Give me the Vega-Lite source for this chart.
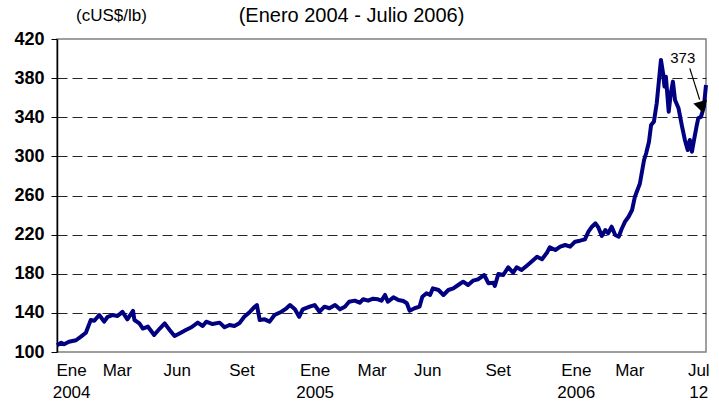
{
  "$schema": "https://vega.github.io/schema/vega-lite/v6.json",
  "width": 649,
  "height": 313,
  "autosize": "none",
  "padding": {"left": 57, "top": 39, "right": 13, "bottom": 55},
  "background": "white",
  "config": {
    "font": "Liberation Sans",
    "view": {"stroke": "#808080", "strokeWidth": 1.5}
  },
  "title": {
    "text": "(Enero 2004 - Julio 2006)",
    "fontSize": 20,
    "fontWeight": "normal",
    "font": "Liberation Sans",
    "color": "black",
    "anchor": "middle",
    "dx": -30,
    "dy": 34,
    "offset": 14
  },
  "datasets": {
    "prices": [
      {"d": "2004-01-02", "v": 107},
      {"d": "2004-01-08", "v": 109.5},
      {"d": "2004-01-12", "v": 108},
      {"d": "2004-01-19", "v": 110.5},
      {"d": "2004-01-29", "v": 112},
      {"d": "2004-02-05", "v": 115.7},
      {"d": "2004-02-12", "v": 119.7},
      {"d": "2004-02-17", "v": 129},
      {"d": "2004-02-19", "v": 132.7},
      {"d": "2004-02-24", "v": 132},
      {"d": "2004-03-02", "v": 137.8},
      {"d": "2004-03-09", "v": 131},
      {"d": "2004-03-14", "v": 136},
      {"d": "2004-03-21", "v": 137.8},
      {"d": "2004-03-28", "v": 136.8},
      {"d": "2004-04-04", "v": 141},
      {"d": "2004-04-11", "v": 133.4},
      {"d": "2004-04-19", "v": 142},
      {"d": "2004-04-21", "v": 132.7},
      {"d": "2004-04-28", "v": 129.3},
      {"d": "2004-05-03", "v": 124},
      {"d": "2004-05-10", "v": 126},
      {"d": "2004-05-19", "v": 117.4},
      {"d": "2004-05-27", "v": 124},
      {"d": "2004-06-03", "v": 129.3},
      {"d": "2004-06-10", "v": 122.5},
      {"d": "2004-06-17", "v": 116.4},
      {"d": "2004-06-24", "v": 119},
      {"d": "2004-07-03", "v": 122.5},
      {"d": "2004-07-11", "v": 125.3},
      {"d": "2004-07-20", "v": 130},
      {"d": "2004-07-27", "v": 126.6},
      {"d": "2004-08-01", "v": 131},
      {"d": "2004-08-10", "v": 128.6},
      {"d": "2004-08-20", "v": 130},
      {"d": "2004-08-27", "v": 125.3},
      {"d": "2004-09-03", "v": 127.6},
      {"d": "2004-09-10", "v": 126.6},
      {"d": "2004-09-17", "v": 129.3},
      {"d": "2004-09-24", "v": 136},
      {"d": "2004-10-02", "v": 141},
      {"d": "2004-10-09", "v": 146.3},
      {"d": "2004-10-12", "v": 148},
      {"d": "2004-10-16", "v": 132.7},
      {"d": "2004-10-23", "v": 133.4},
      {"d": "2004-10-30", "v": 131},
      {"d": "2004-11-06", "v": 137.8},
      {"d": "2004-11-16", "v": 141.2},
      {"d": "2004-11-23", "v": 144.7},
      {"d": "2004-11-28", "v": 148},
      {"d": "2004-12-05", "v": 143.6},
      {"d": "2004-12-11", "v": 136},
      {"d": "2004-12-16", "v": 143.6},
      {"d": "2004-12-26", "v": 146.3},
      {"d": "2005-01-02", "v": 148},
      {"d": "2005-01-09", "v": 141.2},
      {"d": "2005-01-16", "v": 146.3},
      {"d": "2005-01-23", "v": 144.7},
      {"d": "2005-01-31", "v": 148},
      {"d": "2005-02-07", "v": 143.6},
      {"d": "2005-02-14", "v": 146.3},
      {"d": "2005-02-20", "v": 151.4},
      {"d": "2005-02-28", "v": 152.5},
      {"d": "2005-03-07", "v": 150.4},
      {"d": "2005-03-12", "v": 153.9},
      {"d": "2005-03-19", "v": 152.5},
      {"d": "2005-03-26", "v": 154.5},
      {"d": "2005-04-02", "v": 153.9},
      {"d": "2005-04-07", "v": 152.5},
      {"d": "2005-04-12", "v": 158.3},
      {"d": "2005-04-16", "v": 151.4},
      {"d": "2005-04-24", "v": 155.9},
      {"d": "2005-05-01", "v": 153.2},
      {"d": "2005-05-08", "v": 152.1},
      {"d": "2005-05-13", "v": 149.8},
      {"d": "2005-05-17", "v": 142.2},
      {"d": "2005-05-24", "v": 144.7},
      {"d": "2005-05-31", "v": 146.3},
      {"d": "2005-06-04", "v": 156.5},
      {"d": "2005-06-10", "v": 160},
      {"d": "2005-06-15", "v": 158.3},
      {"d": "2005-06-19", "v": 165.1},
      {"d": "2005-06-27", "v": 163.4},
      {"d": "2005-07-04", "v": 158.3},
      {"d": "2005-07-11", "v": 163.4},
      {"d": "2005-07-18", "v": 165.1},
      {"d": "2005-07-25", "v": 168.5},
      {"d": "2005-08-01", "v": 171.9},
      {"d": "2005-08-08", "v": 168.5},
      {"d": "2005-08-15", "v": 172.9},
      {"d": "2005-08-22", "v": 174.3},
      {"d": "2005-08-31", "v": 178.7},
      {"d": "2005-09-06", "v": 170.2},
      {"d": "2005-09-13", "v": 170.9},
      {"d": "2005-09-15", "v": 167.5},
      {"d": "2005-09-20", "v": 179.8},
      {"d": "2005-09-27", "v": 178.7},
      {"d": "2005-10-04", "v": 186.6},
      {"d": "2005-10-11", "v": 181.1},
      {"d": "2005-10-16", "v": 186.6},
      {"d": "2005-10-23", "v": 183.8},
      {"d": "2005-10-30", "v": 188},
      {"d": "2005-11-06", "v": 192.3},
      {"d": "2005-11-14", "v": 197.4},
      {"d": "2005-11-21", "v": 194.8},
      {"d": "2005-11-28", "v": 201.5},
      {"d": "2005-12-02", "v": 207},
      {"d": "2005-12-10", "v": 204.3},
      {"d": "2005-12-17", "v": 207.7},
      {"d": "2005-12-24", "v": 209.4},
      {"d": "2005-12-31", "v": 207.7},
      {"d": "2006-01-07", "v": 212.8},
      {"d": "2006-01-14", "v": 213.8},
      {"d": "2006-01-21", "v": 215.2},
      {"d": "2006-01-26", "v": 223},
      {"d": "2006-01-31", "v": 228.1},
      {"d": "2006-02-05", "v": 231.6},
      {"d": "2006-02-09", "v": 227.5},
      {"d": "2006-02-14", "v": 218.6},
      {"d": "2006-02-19", "v": 224.7},
      {"d": "2006-02-23", "v": 221.4},
      {"d": "2006-02-28", "v": 228.1},
      {"d": "2006-03-05", "v": 219.6},
      {"d": "2006-03-10", "v": 217.9},
      {"d": "2006-03-14", "v": 225.5},
      {"d": "2006-03-19", "v": 233.2},
      {"d": "2006-03-24", "v": 238.3},
      {"d": "2006-03-29", "v": 245.2},
      {"d": "2006-04-02", "v": 258.8},
      {"d": "2006-04-09", "v": 272},
      {"d": "2006-04-15", "v": 296.3},
      {"d": "2006-04-18", "v": 303.2},
      {"d": "2006-04-22", "v": 315},
      {"d": "2006-04-25", "v": 332.1},
      {"d": "2006-04-29", "v": 335.5},
      {"d": "2006-05-03", "v": 354.3},
      {"d": "2006-05-06", "v": 376.4},
      {"d": "2006-05-09", "v": 398.6},
      {"d": "2006-05-12", "v": 385},
      {"d": "2006-05-14", "v": 371.3},
      {"d": "2006-05-16", "v": 381.5},
      {"d": "2006-05-20", "v": 345.7},
      {"d": "2006-05-23", "v": 364.5},
      {"d": "2006-05-26", "v": 376.4},
      {"d": "2006-05-29", "v": 357.7},
      {"d": "2006-06-03", "v": 349.2},
      {"d": "2006-06-08", "v": 330.4},
      {"d": "2006-06-12", "v": 316.8},
      {"d": "2006-06-16", "v": 306.5},
      {"d": "2006-06-19", "v": 316.8},
      {"d": "2006-06-22", "v": 304.8},
      {"d": "2006-06-25", "v": 316.8},
      {"d": "2006-06-29", "v": 332.1},
      {"d": "2006-07-01", "v": 338.9},
      {"d": "2006-07-05", "v": 340.6},
      {"d": "2006-07-09", "v": 350.8},
      {"d": "2006-07-12", "v": 373}
    ],
    "arrow": [{"d": "2006-06-19", "v": 390, "d2": "2006-07-03", "v2": 358}],
    "head": [{"d": "2006-07-06", "v": 350}],
    "label": [{"d": "2006-06-09", "v": 401, "t": "373"}]
  },
  "layer": [
    {
      "data": {"name": "prices"},
      "mark": {"type": "line", "color": "#000080", "strokeWidth": 4, "strokeJoin": "round"},
      "encoding": {
        "x": {
          "field": "d", "type": "temporal",
          "scale": {"type": "utc", "nice": false,
            "domain": [{"year": 2004, "month": 1, "date": 2, "utc": true}, {"year": 2006, "month": 7, "date": 12, "utc": true}]},
          "axis": {
            "title": null,
            "grid": false,
            "domain": false,
            "ticks": false,
            "labelFont": "Liberation Sans",
            "labelFontSize": 17,
            "labelColor": "black",
            "labelPadding": 10,
            "labelLineHeight": 22,
            "labelOverlap": false,
            "labelFlush": false,
            "values": [
              {"year": 2004, "month": 1, "date": 22, "utc": true},
              {"year": 2004, "month": 3, "date": 27, "utc": true},
              {"year": 2004, "month": 6, "date": 20, "utc": true},
              {"year": 2004, "month": 9, "date": 20, "utc": true},
              {"year": 2005, "month": 1, "date": 2, "utc": true},
              {"year": 2005, "month": 3, "date": 24, "utc": true},
              {"year": 2005, "month": 6, "date": 11, "utc": true},
              {"year": 2005, "month": 9, "date": 19, "utc": true},
              {"year": 2006, "month": 1, "date": 8, "utc": true},
              {"year": 2006, "month": 3, "date": 25, "utc": true},
              {"year": 2006, "month": 7, "date": 1, "utc": true}
            ],
            "labelExpr": "utcmonth(datum.value) == 0 ? ['Ene', utcFormat(datum.value, '%Y')] : utcmonth(datum.value) == 6 ? ['Jul', '12'] : utcmonth(datum.value) == 2 ? 'Mar' : utcmonth(datum.value) == 5 ? 'Jun' : 'Set'"
          }
        },
        "y": {
          "field": "v", "type": "quantitative",
          "scale": {"domain": [100, 420], "nice": false, "zero": false},
          "axis": {
            "title": "(cUS$/lb)",
            "titleAngle": 0,
            "titleX": 54,
            "titleY": -24,
            "titleAlign": "center",
            "titleBaseline": "middle",
            "titleFont": "Liberation Sans",
            "titleFontSize": 17,
            "titleFontWeight": "normal",
            "titleColor": "black",
            "values": [100, 140, 180, 220, 260, 300, 340, 380, 420],
            "tickCount": 9,
            "labelOverlap": false,
            "labelFont": "Liberation Sans",
            "labelFontSize": 18,
            "labelFontWeight": "bold",
            "labelColor": "black",
            "labelPadding": 7,
            "tickSize": 6,
            "tickColor": "black",
            "domainColor": "black",
            "domainWidth": 1.5,
            "grid": true,
            "gridColor": "black",
            "gridDash": [10, 5],
            "gridWidth": 1,
            "gridOpacity": {"condition": {"test": "datum.value == 100 || datum.value == 420", "value": 0}, "value": 0.85}
          }
        }
      }
    },
    {
      "data": {"name": "arrow"},
      "mark": {"type": "rule", "color": "black", "strokeWidth": 1.2},
      "encoding": {
        "x": {"field": "d", "type": "temporal"},
        "y": {"field": "v", "type": "quantitative"},
        "x2": {"field": "d2"},
        "y2": {"field": "v2"}
      }
    },
    {
      "data": {"name": "head"},
      "mark": {"type": "point", "shape": "triangle-up", "filled": true, "color": "black", "opacity": 1, "size": 200, "angle": 164},
      "encoding": {
        "x": {"field": "d", "type": "temporal"},
        "y": {"field": "v", "type": "quantitative"}
      }
    },
    {
      "data": {"name": "label"},
      "mark": {"type": "text", "font": "Liberation Sans", "fontSize": 15, "color": "black", "align": "center", "baseline": "middle"},
      "encoding": {
        "x": {"field": "d", "type": "temporal"},
        "y": {"field": "v", "type": "quantitative"},
        "text": {"field": "t"}
      }
    }
  ]
}
